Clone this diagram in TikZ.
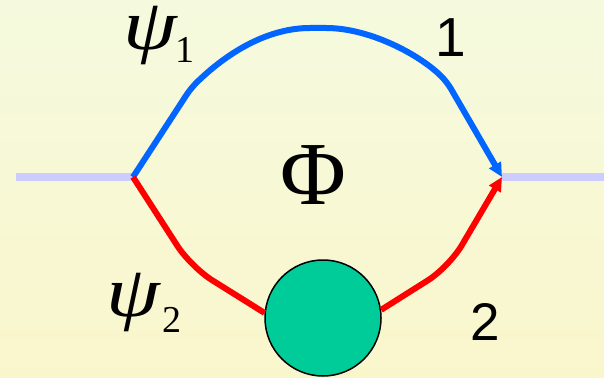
\documentclass[tikz,border=0pt]{standalone}
\usepackage{fontspec}
\setmainfont{Liberation Serif}
\newfontfamily\digitfont{Liberation Sans}
\usetikzlibrary{arrows.meta}
\definecolor{bgtop}{RGB}{245,250,222}
\definecolor{bgbot}{RGB}{250,246,204}
\definecolor{legblue}{RGB}{0,102,255}
\definecolor{legred}{RGB}{255,0,0}
\definecolor{blobgreen}{RGB}{0,204,153}
\definecolor{extline}{RGB}{204,204,255}
\newcommand{\fieldlabel}[3]{\makebox[#1][l]{\fontsize{72}{74}\selectfont\itshape\scalebox{1.2}[1]{ψ}}\raisebox{#2}{\fontsize{38}{40}\selectfont #3}}
\begin{document}
\begin{tikzpicture}[x=1pt,y=-1pt,
    every node/.style={inner sep=0pt},
    ext/.style={extline,line width=8pt},
    leg/.style={line width=6pt,line join=round,-{Triangle[length=14pt,width=13pt]}},
    lbl/.style={anchor=base}]
  \shade[top color=bgtop,bottom color=bgbot] (0,0) rectangle (604,377);
  \useasboundingbox (0,0) rectangle (604,377);
  \coordinate (lend) at (16,177);
  \coordinate (vin) at (133,177);
  \coordinate (vout) at (502,177);
  \coordinate (rend) at (604,177);
  \node[circle,draw=black,line width=1.5pt,fill=blobgreen,minimum size=116pt] (blob) at (323,318) {};
  \draw[ext] (lend)--(vin);
  \draw[ext] (vout)--(rend);
  \draw[leg,legblue,rounded corners=8pt] (vin) -- (191,88) .. controls (230,50) and (270,28) .. (318,28)
    .. controls (370,28) and (420,55) .. (447,82) -- (vout);
  \draw[legred,line width=6pt,rounded corners=25pt] (vin) -- (191,267) -- (blob.175);
  \draw[leg,legred,rounded corners=25pt] (blob.8) -- (449,267) -- (vout);
  \node[anchor=base west] (psione) at (123,50) {\fieldlabel{52pt}{-13pt}{1}};
  \node[anchor=base west] (psitwo) at (106,316) {\fieldlabel{56pt}{-16pt}{2}};
  \node[lbl] (phi) at (313,204) {\fontsize{90}{92}\selectfont Φ};
  \node[lbl] (one) at (451,57) {\digitfont\fontsize{55}{56}\selectfont 1};
  \node[lbl] (two) at (485,340) {\digitfont\fontsize{53}{56}\selectfont 2};
\end{tikzpicture}
\end{document}
